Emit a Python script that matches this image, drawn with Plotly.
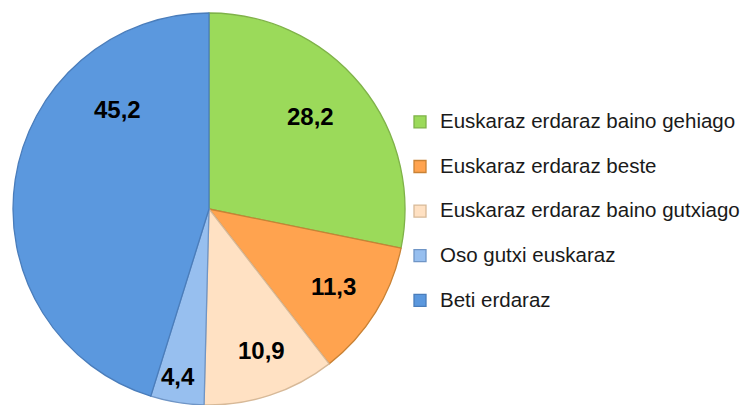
import math
import plotly.graph_objects as go

categories = [
    "Euskaraz erdaraz baino gehiago",
    "Euskaraz erdaraz beste",
    "Euskaraz erdaraz baino gutxiago",
    "Oso gutxi euskaraz",
    "Beti erdaraz",
]
values = [28.2, 11.3, 10.9, 4.4, 45.2]

colors = ["#9BDA5A", "#FFA34F", "#FFE1C3", "#97BFEF", "#5B98DE"]
line_colors = ["#7FB249", "#C98235", "#D7B998", "#6F95C6", "#4A7DBB"]

# label placement (style): angular shift (deg) from slice middle, radius fraction
label_angle_shift = [-3, 0, -2, 1, 39]
label_radius = [0.70, 0.75, 0.77, 0.87, 0.69]

legend_labels = [
    f"<span style='font-size:20.5px'>{c}</span><br><span style='font-size:2px'>&nbsp;</span>"
    for c in categories
]

W, H = 752, 405
cx, cy, r = 209, 209, 196

fig = go.Figure(
    go.Pie(
        labels=legend_labels,
        values=values,
        sort=False,
        direction="clockwise",
        rotation=0,
        marker=dict(colors=colors, line=dict(color=line_colors, width=1.3)),
        textinfo="none",
        hoverinfo="label+value",
        domain=dict(
            x=[(cx - r) / W, (cx + r) / W],
            y=[max(0.0, (H - cy - r) / H), min(1.0, (H - cy + r) / H)],
        ),
    )
)

total = sum(values)
cum = 0.0
annotations = []
for i, v in enumerate(values):
    mid = (cum + v / 2) / total * 360.0
    cum += v
    ang = math.radians(mid + label_angle_shift[i])
    d = label_radius[i] * r
    px = cx + d * math.sin(ang)
    py = cy - d * math.cos(ang)
    annotations.append(
        dict(
            x=px / W,
            y=(H - py) / H,
            xref="paper",
            yref="paper",
            text=f"{v:.1f}".replace(".", ","),
            showarrow=False,
            xanchor="center",
            yanchor="middle",
            font=dict(family="Liberation Sans, Arial, sans-serif", size=24, color="#000000", weight="bold"),
        )
    )

fig.update_layout(
    width=W,
    height=H,
    margin=dict(l=0, r=0, t=0, b=0),
    paper_bgcolor="white",
    plot_bgcolor="white",
    showlegend=True,
    annotations=annotations,
    legend=dict(
        x=400 / W,
        y=(H - 105) / H,
        xanchor="left",
        yanchor="top",
        valign="top",
        font=dict(family="Liberation Sans, Arial, sans-serif", size=16.0, color="#1a1a1a"),
        bgcolor="rgba(0,0,0,0)",
    ),
)

fig.write_html(
    "out.html",
    config={"displayModeBar": False},
    post_script="document.body.style.margin='0px';",
)
